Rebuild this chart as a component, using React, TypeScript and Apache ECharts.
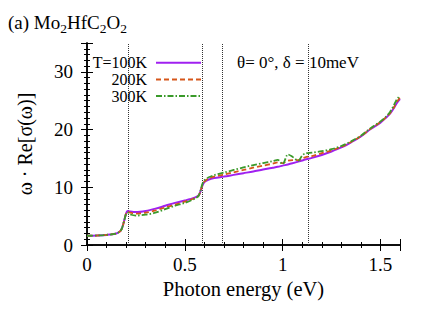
import React, { useEffect, useRef } from "react";
import * as echarts from "echarts";

const energy = [0, 0.05, 0.1, 0.15, 0.17, 0.18, 0.19, 0.2, 0.207, 0.22, 0.25, 0.3, 0.35, 0.4, 0.45, 0.5, 0.55, 0.57, 0.58, 0.59, 0.6, 0.62, 0.65, 0.7, 0.75, 0.8, 0.85, 0.9, 0.95, 0.975, 1.0, 1.027, 1.05, 1.08, 1.1, 1.115, 1.15, 1.2, 1.25, 1.3, 1.35, 1.4, 1.45, 1.5, 1.53, 1.55, 1.57, 1.58, 1.59, 1.6];

const t100 = [1.6, 1.65, 1.75, 2.0, 2.4, 3.0, 4.2, 5.5, 5.9, 5.8, 5.7, 5.9, 6.3, 6.8, 7.3, 7.7, 8.2, 8.6, 9.3, 10.3, 10.9, 11.3, 11.6, 11.85, 12.15, 12.45, 12.75, 13.1, 13.4, 13.55, 13.75, 13.95, 14.15, 14.45, 14.65, 14.8, 15.1, 15.6, 16.2, 16.9, 17.8, 18.8, 20.1, 21.2, 22.1, 22.8, 23.8, 24.4, 24.9, 25.3];
const t200 = [1.6, 1.65, 1.75, 2.0, 2.4, 3.0, 4.2, 5.5, 5.8, 5.6, 5.45, 5.6, 6.0, 6.5, 7.0, 7.5, 8.1, 8.5, 9.3, 10.4, 11.0, 11.5, 11.85, 12.2, 12.6, 13.0, 13.4, 13.75, 14.1, 14.3, 14.2, 14.6, 14.7, 14.7, 15.0, 15.2, 15.4, 15.9, 16.4, 17.0, 17.85, 18.85, 20.15, 21.3, 22.2, 22.9, 23.9, 24.6, 25.1, 25.6];
const t300 = [1.6, 1.65, 1.75, 2.0, 2.4, 3.0, 4.2, 5.4, 5.6, 5.3, 5.1, 5.25, 5.6, 6.2, 6.8, 7.3, 8.0, 8.5, 9.4, 10.6, 11.2, 11.7, 12.1, 12.55, 13.0, 13.45, 13.85, 14.2, 14.55, 14.75, 14.0, 15.7, 15.3, 14.6, 15.5, 15.85, 16.0, 16.25, 16.6, 17.15, 17.95, 18.95, 20.25, 21.4, 22.3, 23.1, 24.3, 25.0, 25.5, 25.9];

const seriesNames = ["T=100K", "200K", "300K"];
const vLines = [0.207, 0.587, 0.689, 1.127];
const xTicks = [0, 0.5, 1, 1.5];
const yTicks = [0, 10, 20, 30];

const FONT = "Liberation Serif";

export default function App() {
  const ref = useRef<HTMLDivElement>(null);
  useEffect(() => {
    const chart = echarts.init(ref.current!, null, { renderer: "svg" });
    const pair = (ys: number[]) => energy.map((x, i) => [x, ys[i]]);
    const axisLine = { show: true, lineStyle: { color: "#000", width: 1.5 } };
    const axisTick = { show: true, inside: true, length: 6, lineStyle: { color: "#000", width: 1 } };
    const minorTick = { show: true, length: 3, lineStyle: { color: "#000", width: 1 } };
    chart.setOption({
      animation: false,
      title: {
        text: "(a) Mo{s|2}HfC{s|2}O{s|2}",
        left: 3,
        top: 5,
        textStyle: {
          fontFamily: FONT,
          fontSize: 19,
          fontWeight: "normal",
          color: "#000",
          rich: {
            s: { fontFamily: FONT, fontSize: 13.5, color: "#000", padding: [11, 0, 0, 0] },
          },
        },
      },
      legend: {
        orient: "vertical",
        align: "right",
        right: 234,
        top: 54.7,
        padding: 0,
        itemWidth: 45,
        itemHeight: 16,
        itemGap: 0.7,
        itemStyle: { opacity: 0 },
        textStyle: { fontFamily: FONT, fontSize: 16, color: "#000", lineHeight: 16, padding: [0, 4, 0, 0] },
        data: seriesNames,
      },
      grid: { left: 87, right: 36, top: 43, bottom: 65 },
      xAxis: [
        {
          type: "value",
          min: 0,
          max: 1.6,
          interval: 0.5,
          minorTick: { ...minorTick, splitNumber: 5 },
          axisLine,
          axisTick,
          splitLine: { show: false },
          axisLabel: {
            fontFamily: FONT,
            fontSize: 19,
            color: "#000",
            margin: 10,
            showMaxLabel: false,
            formatter: (v: number) => (xTicks.some((t) => Math.abs(t - v) < 1e-6) ? String(v) : ""),
          },
          name: "Photon energy (eV)",
          nameLocation: "middle",
          nameGap: 30,
          nameTextStyle: { fontFamily: FONT, fontSize: 20.5, color: "#000" },
        },
        {
          type: "value",
          position: "top",
          min: 0,
          max: 1.6,
          interval: 0.5,
          minorTick: { ...minorTick, splitNumber: 5 },
          axisLine,
          axisTick,
          splitLine: { show: false },
          axisLabel: { show: false },
        },
      ],
      yAxis: [
        {
          type: "value",
          min: 0,
          max: 35,
          interval: 10,
          minorTick: { ...minorTick, splitNumber: 10 },
          axisLine,
          axisTick,
          splitLine: { show: false },
          axisLabel: {
            fontFamily: FONT,
            fontSize: 19,
            color: "#000",
            margin: 14,
            showMaxLabel: false,
            formatter: (v: number) => (yTicks.includes(v) ? String(v) : ""),
          },
          name: "ω · Re[σ(ω)]",
          nameLocation: "middle",
          nameGap: 52,
          nameTextStyle: { fontFamily: FONT, fontSize: 20, color: "#000" },
        },
        {
          type: "value",
          position: "right",
          min: 0,
          max: 35,
          interval: 10,
          minorTick: { ...minorTick, splitNumber: 10 },
          axisLine,
          axisTick,
          splitLine: { show: false },
          axisLabel: { show: false },
        },
      ],
      series: [
        {
          name: seriesNames[0],
          type: "line",
          data: pair(t100),
          showSymbol: false,
          symbol: "none",
          smooth: 0.3,
          z: 4,
          lineStyle: { color: "#a020f0", width: 2 },
          itemStyle: { color: "#a020f0" },
          markLine: {
            silent: true,
            symbol: "none",
            label: { show: false },
            lineStyle: { type: "dotted", color: "#333", width: 1 },
            data: vLines.map((v) => ({ xAxis: v })),
            z: 1,
          },
        },
        {
          name: seriesNames[1],
          type: "line",
          data: pair(t200),
          showSymbol: false,
          symbol: "none",
          smooth: 0.3,
          z: 5,
          lineStyle: { color: "#d6561a", width: 1.8, type: [5, 3] },
          itemStyle: { color: "#d6561a" },
        },
        {
          name: seriesNames[2],
          type: "line",
          data: pair(t300),
          showSymbol: false,
          symbol: "none",
          smooth: 0.3,
          z: 6,
          lineStyle: { color: "#3a9a2a", width: 1.8, type: [6, 2, 1.5, 2] },
          itemStyle: { color: "#3a9a2a" },
        },
      ],
      graphic: [
        {
          type: "text",
          left: 237,
          top: 54,
          style: {
            text: "θ= 0°, δ = 10meV",
            fontFamily: FONT,
            fontSize: 17,
            fill: "#000",
          },
        },
      ],
    });
    return () => chart.dispose();
  }, []);
  return <div ref={ref} style={{ position: "fixed", left: 0, top: 0, width: 436, height: 310, background: "#fff" }} />;
}
